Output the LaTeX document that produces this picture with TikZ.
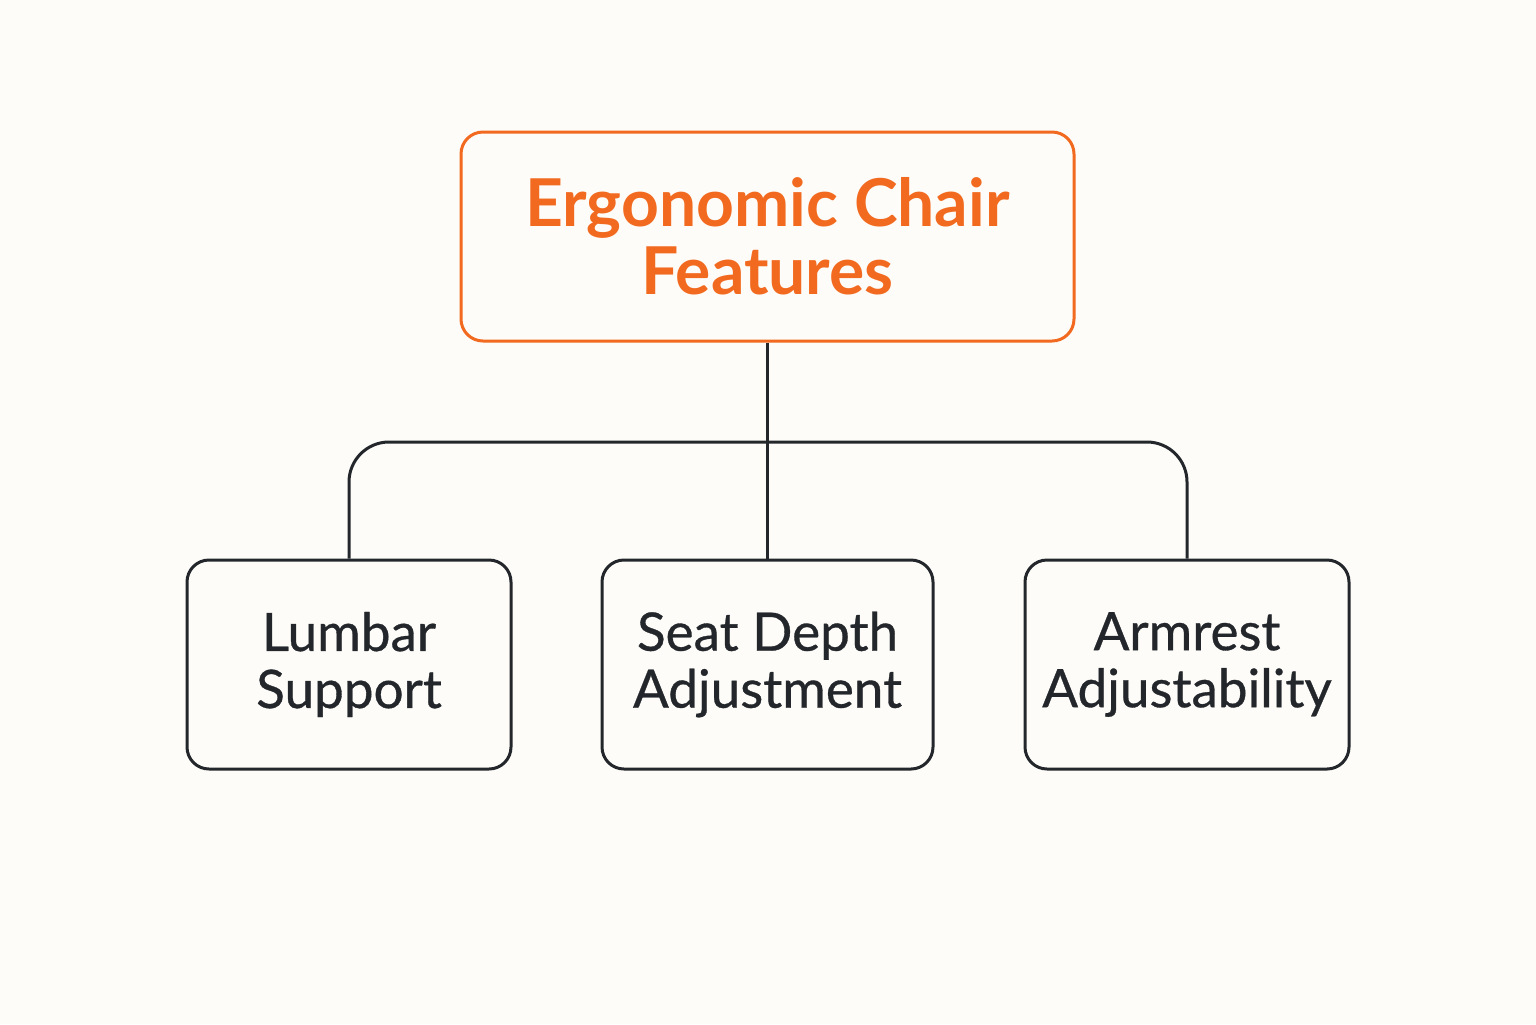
\documentclass[tikz,border=0pt]{standalone}
\usepackage{fontspec}
\setmainfont{Lato}
\newfontfamily\leaffont[FakeBold=0.6]{Lato}
\definecolor{bgc}{HTML}{FDFCF8}
\definecolor{orng}{HTML}{F26A1F}
\definecolor{dark}{HTML}{23272B}
\begin{document}
\begin{tikzpicture}[x=0.5pt,y=-0.5pt,
  topbox/.style={draw=orng, line width=1.5pt, rounded corners=11pt, fill=bgc,
    minimum width=306.5pt, minimum height=104.5pt, align=center, text=orng,
    font=\fontsize{33}{34}\selectfont\bfseries, inner sep=0pt},
  leafbox/.style={draw=dark, line width=1.5pt, rounded corners=11pt, fill=bgc,
    minimum height=104.5pt, align=center, text=dark,
    font=\leaffont\fontsize{26.5}{28.5}\selectfont, inner sep=0pt},
  conn/.style={draw=dark, line width=1.5pt}]
\fill[bgc] (0,0) rectangle (1536,1024);
\useasboundingbox (0,0) rectangle (1536,1024);
\node[topbox] (top) at (767.5,236.5) {Ergonomic Chair\\Features};
\node[leafbox, minimum width=162pt] (lumbar) at (349,664.5) {Lumbar\\Support};
\node[leafbox, minimum width=165.5pt] (seat) at (767.5,664.5) {Seat Depth\\Adjustment};
\node[leafbox, minimum width=162pt] (arm) at (1187,664.5) {Armrest\\Adjustability};
\coordinate (hl) at (349,442);
\coordinate (hr) at (1187,442);
\draw[conn] (top.south) -- (seat.north);
\draw[conn, rounded corners=20pt] (lumbar.north) -- (hl) -- (hr) -- (arm.north);
\end{tikzpicture}
\end{document}
